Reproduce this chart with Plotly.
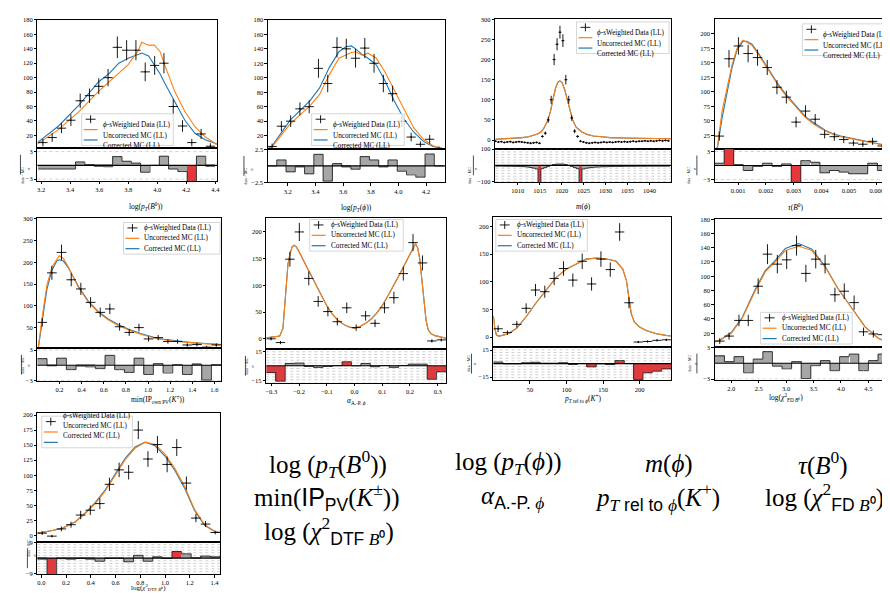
import plotly.graph_objects as go

W, H = 890, 593

LEGEND_LABELS = ["<i>ϕ</i>-sWeighted Data (LL)", "Uncorrected MC (LL)", "Corrected MC (LL)"]
FRAC_TOP, FRAC_BOT = "data − MC", "σ"

# ---------------- Panel 1: log(pT(B0)) ----------------
ptb_x = [3.212, 3.276, 3.340, 3.405, 3.469, 3.533, 3.597, 3.661, 3.725, 3.789, 3.853, 3.917, 3.982, 4.046, 4.110, 4.174, 4.238, 4.302, 4.366]
ptb_w = 0.064
ptb_data = [10, 17, 30, 41, 68, 75, 88, 100, 142, 138, 138, 108, 117, 120, 60, 33, 10, 22, 5]
ptb_err = [5, 6, 7, 8, 10, 10, 11, 12, 15, 14, 14, 13, 13, 14, 10, 8, 5, 7, 4]
ptb_mc_x = [3.174, 3.18, 3.32, 3.46, 3.595, 3.67, 3.735, 3.8, 3.87, 3.893, 3.94, 3.98, 4.02, 4.05, 4.12, 4.19, 4.26, 4.33, 4.412]
ptb_unc = [8, 9, 28, 53, 81, 95, 106, 118, 138, 149, 145, 145, 136, 118, 81, 53, 32, 18, 7]
ptb_cor = [10, 11, 33, 62, 94, 106, 120, 127, 132, 134, 130, 118, 105, 93, 68, 41, 23, 14, 8]
ptb_pull = [-0.8, -0.8, -0.8, -0.8, 0.75, 0.15, -0.2, -0.3, 1.9, 0.9, 0.5, -1.5, 0.0, 2.0, -0.8, -1.35, -3.6, 2.0, -0.2]

# ---------------- Panel 2: log(pT(phi)) ----------------
pphi_x = [3.087, 3.154, 3.221, 3.288, 3.355, 3.422, 3.489, 3.556, 3.623, 3.690, 3.757, 3.824, 3.891, 3.958, 4.025, 4.092, 4.159, 4.226, 4.293]
pphi_w = 0.067
pphi_data = [5, 33, 40, 57, 60, 113, 92, 142, 140, 127, 141, 120, 92, 78, 40, 18, 8, 15, 2]
pphi_err = [4, 7, 8, 9, 9, 13, 12, 14, 14, 13, 14, 13, 12, 11, 8, 6, 4, 6, 3]
pphi_mc_x = [3.056, 3.084, 3.216, 3.36, 3.43, 3.5, 3.57, 3.62, 3.66, 3.69, 3.74, 3.78, 3.84, 3.9, 3.97, 4.04, 4.11, 4.18, 4.25, 4.337]
pphi_unc = [2, 4, 36, 61, 77, 104, 127, 132, 135, 136, 131, 134, 127, 109, 83, 56, 31, 15, 6, 1.5]
pphi_cor = [2, 5, 41, 68, 86, 114, 136, 143, 144, 140, 132, 127, 118, 97, 68, 43, 25, 12, 5, 1.5]
pphi_pull = [0.0, 0.9, -0.9, -0.15, -1.2, 1.75, -2.3, 0.35, -0.15, -0.5, 1.4, 0.9, -0.15, 0.9, -0.8, -1.35, -1.7, 1.8, 0.0]

# ---------------- Panel 3: m(phi) ----------------
mphi_x = [1004.95, 1005.62, 1006.28, 1006.95, 1007.62, 1008.29, 1008.95, 1009.62, 1010.29, 1010.95,
          1011.62, 1012.29, 1012.95, 1013.62, 1014.29, 1014.95, 1015.62, 1016.29, 1016.96, 1017.62,
          1018.29, 1018.96, 1019.62, 1020.29, 1020.96, 1021.62, 1022.29, 1022.96, 1023.63, 1024.29,
          1024.96, 1025.63, 1026.29, 1026.96, 1027.63, 1028.30, 1028.96, 1029.63, 1030.30, 1030.96,
          1031.63, 1032.30, 1032.96, 1033.63, 1034.30, 1034.97, 1035.63, 1036.30, 1036.97, 1037.63,
          1038.30, 1038.97, 1039.63, 1040.30, 1040.97, 1041.63, 1042.30, 1042.97, 1043.63, 1044.30]
mphi_w = 0.667
mphi_data = [-3, -5, -4, -6, -5, -4, -6, -5, -4, -5, -6, -7, -8, -7, -6,
             -8, 9, 17, 50, 100, 200, 238, 268, 247, 150, 100, 55, 22, 9, -3,
             -5, -7, -8, -7, -6, -7, -6, -5, -6, -5, -6, -5, -4, -5, -4,
             -5, -4, -3, -4, -3, -3, -2, -3, -2, -3, -2, -1, -2, -1, -2]
mphi_err = [2.5, 2.5, 2.5, 2.5, 2.5, 2.5, 2.5, 2.5, 2.5, 2.5, 2.5, 2.5, 2.5, 2.5, 2.5,
            2.5, 3, 4, 7, 10, 14, 15, 16, 16, 12, 10, 7, 5, 3, 2.5,
            2.5, 2.5, 2.5, 2.5, 2.5, 2.5, 2.5, 2.5, 2.5, 2.5, 2.5, 2.5, 2.5, 2.5, 2.5,
            2.5, 2.5, 2.5, 2.5, 2.5, 2.5, 2.5, 2.5, 2.5, 2.5, 2.5, 2.5, 2.5, 2.5, 2.5]
mphi_mc_x = [1004.9, 1007, 1009, 1011, 1012.5, 1013.5, 1014.5, 1015.3, 1016, 1016.9, 1017.5, 1018, 1018.6, 1019.1,
             1019.6, 1020.1, 1020.7, 1021.3, 1022, 1022.5, 1023.3, 1024.6, 1025.8, 1027.2, 1029, 1031, 1034, 1037, 1040, 1044.9]
mphi_unc = [2, 3, 4, 6, 8, 11, 15, 20, 30, 50, 73, 100, 128, 143, 147, 143, 125, 100, 73, 50, 32, 20, 14, 10, 8, 6, 5, 4, 3, 3]
mphi_cor = [2, 3, 4, 6, 8, 11, 15, 20, 30, 50, 73, 100, 128, 143, 147, 143, 125, 100, 73, 50, 32, 20, 14, 10, 8, 6, 5, 4, 3, 3]
mphi_pull = [-3, -3, -3, -4, -4, -4, -5, -5, -6, -7, -8, -10, -13, -17, -22,
             -110, -20, -12, -6, 0, 5, 8, 9, 8, 5, 0, -6, -12, -20, -110,
             -22, -18, -15, -13, -11, -10, -9, -8, -8, -7, -7, -6, -6, -6, -5,
             -5, -5, -5, -4, -4, -4, -4, -3, -3, -3, -3, -3, -3, -3, -3]

# ---------------- Panel 4: tau(B0) ----------------
tau_x = [0.00032, 0.00067, 0.00101, 0.00136, 0.00170, 0.00205, 0.00240, 0.00274, 0.00309, 0.00343,
         0.00378, 0.00412, 0.00447, 0.00481, 0.00516, 0.00550, 0.00585, 0.00620, 0.00654]
tau_w = 0.000345
tau_data = [24, 157, 179, 166, 159, 142, 108, 91, 48, 67, 53, 27, 23, 18, 12, 10, 15, 7, 5]
tau_err = [8, 15, 15, 15, 14, 13, 12, 11, 9, 10, 9, 7, 7, 6, 5, 5, 6, 4, 4]
tau_mc_x = [0.00015, 0.00025, 0.00042, 0.0006, 0.00078, 0.00096, 0.00117, 0.0013, 0.0015, 0.00175, 0.002, 0.00222,
            0.00246, 0.0027, 0.00294, 0.00318, 0.00342, 0.00366, 0.0039, 0.00414, 0.00438, 0.0047, 0.0051, 0.0055,
            0.00582, 0.0062, 0.00666]
tau_unc = [1, 5, 67, 107, 147, 175, 189, 186, 180, 163, 145, 127, 110, 95, 82, 68, 56, 47, 39, 33, 28, 23, 19, 15, 12, 9, 5]
tau_cor = [1, 3, 55, 100, 142, 172, 187, 187, 182, 165, 147, 129, 112, 97, 84, 70, 58, 49, 41, 34, 29, 24, 20, 16, 12.5, 9.5, 5.5]
tau_pull = [0.5, 3.6, 0.2, -1.05, -0.15, 0.5, -0.15, 0.35, -3.6, 1.05, 0.7, -1.55, -1.05, -1.4, -1.75, -1.75, 0.5, -1.05, -2.0]

# ---------------- Panel 5: min(IP_ownPV(K)) ----------------
ip_x = [0.044, 0.131, 0.218, 0.306, 0.393, 0.481, 0.568, 0.655, 0.743, 0.830, 0.918, 1.005, 1.092, 1.180, 1.267, 1.355, 1.442, 1.529, 1.617]
ip_w = 0.0874
ip_data = [62, 176, 223, 160, 139, 108, 85, 93, 52, 39, 50, 24, 27, 18, 18, 10, 11, 5, 10]
ip_err = [10, 16, 18, 15, 14, 12, 11, 12, 9, 8, 9, 6, 6, 5, 5, 4, 4, 3, 4]
ip_mc_x = [0.0, 0.008, 0.041, 0.086, 0.131, 0.176, 0.197, 0.236, 0.281, 0.37, 0.46, 0.55, 0.64, 0.73, 0.82, 0.94, 1.09, 1.24, 1.39, 1.54, 1.66]
ip_unc = [0, 3, 71, 147, 189, 209, 215, 209, 189, 143, 109, 85, 68, 55, 45, 34, 24, 18.5, 15, 12.7, 11]
ip_cor = [0, 2, 60, 138, 182, 203, 206, 203, 187, 145, 111, 87, 70, 57, 47, 36, 25, 19.5, 15.5, 13, 11]
ip_pull = [1.3, -0.1, 1.4, -0.85, -0.15, -0.3, -0.65, 1.95, -0.85, -1.4, 1.4, -1.8, 0.3, -1.5, 0.1, -1.8, 0.2, -2.9, 0.1]

# ---------------- Panel 6: alpha A.-P. phi ----------------
ap_x = [-0.301, -0.267, -0.233, -0.199, -0.165, -0.131, -0.096, -0.062, -0.028, 0.006, 0.040, 0.074, 0.108, 0.142, 0.176, 0.211, 0.245, 0.279, 0.313]
ap_w = 0.0341
ap_data = [0, -7, 149, 200, 113, 70, 51, 32, 58, 21, 43, 29, 58, 77, 122, 180, 142, -4, -2]
ap_err = [3, 3, 14, 17, 13, 10, 9, 7, 10, 6, 9, 7, 10, 11, 13, 16, 14, 3, 3]
ap_mc_x = [-0.318, -0.29, -0.27, -0.258, -0.25, -0.245, -0.24, -0.232, -0.225, -0.218, -0.21, -0.2, -0.19, -0.18, -0.16,
           -0.14, -0.12, -0.1, -0.08, -0.06, -0.04, -0.02, 0.0, 0.02, 0.04, 0.06, 0.08, 0.1, 0.12, 0.14, 0.16, 0.18, 0.2,
           0.21, 0.22, 0.228, 0.235, 0.242, 0.25, 0.258, 0.265, 0.275, 0.29, 0.31, 0.33]
ap_unc = [2, 3, 5, 20, 70, 110, 140, 160, 172, 175, 172, 163, 152, 142, 122, 102, 82, 62, 46, 35, 27, 22, 20, 23, 29,
          37, 48, 62, 80, 98, 118, 138, 158, 168, 178, 170, 150, 115, 70, 35, 18, 10, 6, 3, 1]
ap_cor = [2, 3, 5, 20, 70, 110, 140, 160, 172, 175, 172, 163, 152, 142, 122, 102, 82, 62, 46, 35, 27, 22, 20, 23, 29,
          37, 48, 62, 80, 98, 118, 138, 158, 168, 178, 170, 150, 115, 70, 35, 18, 10, 6, 3, 1]
ap_pull = [-7, -16, 2.4, 2.8, -0.7, -1.7, -0.7, 0.2, 4.2, 0.0, 2.4, -1.0, 0.3, -1.7, 0.3, 1.7, 1.7, -14, -6.3]

# ---------------- Panel 7: pT rel to phi (K+) ----------------
prel_x = [6.4, 19.2, 32.0, 44.8, 57.6, 70.3, 83.1, 95.9, 108.7, 121.5, 134.3, 147.1, 159.9, 172.7, 185.5, 198.2, 211.0, 223.8, 236.6]
prel_w = 12.79
prel_data = [15, 8, 23, 52, 85, 82, 106, 124, 103, 137, 96, 141, 122, 190, 62, -9, -8, -6, -5]
prel_err = [6, 4, 6, 9, 11, 11, 12, 13, 12, 14, 12, 14, 13, 16, 10, 2, 2, 2, 2]
prel_mc_x = [0, 2, 4, 7, 12, 18, 25, 32, 40, 46, 59, 73, 86, 100, 114, 127, 141, 155, 168, 177, 182, 185.5, 188.6,
             193, 200, 209, 223, 236, 243]
prel_unc = [38, 15, 4, 1.8, 3, 5, 10, 16, 29, 39, 63, 87, 108, 123, 133, 141, 143, 141, 137, 123, 102, 69, 42, 27, 18, 12, 6, 3, 2]
prel_cor = [38, 15, 4, 1.8, 3, 5, 10, 16, 29, 39, 63, 87, 108, 123, 133, 141, 143, 141, 137, 123, 102, 69, 42, 27, 18, 12, 6, 3, 2]
prel_pull = [1.8, -0.2, -0.2, 0.8, 1.5, 0.5, 0.5, 0.8, -0.9, 0.1, -3.6, -0.2, -1.0, 3.5, 0.1, -17.6, -10.2, -8.4, -5.8]

# ---------------- Panel 8: log(chi2 FD B0) ----------------
fd_x = [1.79, 1.96, 2.14, 2.31, 2.49, 2.66, 2.84, 3.01, 3.19, 3.36, 3.54, 3.71, 3.89, 4.06, 4.24, 4.41, 4.59, 4.76, 4.94]
fd_w = 0.175
fd_data = [9, 16, 38, 38, 86, 131, 117, 123, 143, 104, 124, 117, 74, 79, 63, 22, 19, 18, 2]
fd_err = [4, 5, 8, 8, 11, 14, 13, 13, 14, 12, 13, 13, 10, 11, 10, 6, 5, 5, 2]
fd_mc_x = [1.7, 1.806, 2.0, 2.2, 2.44, 2.62, 2.8, 2.985, 3.23, 3.47, 3.71, 3.95, 4.2, 4.44, 4.68, 4.985]
fd_unc = [8, 10.7, 20, 41, 80, 106, 120, 136, 142, 136, 113, 82, 55, 29, 13, 3]
fd_cor = [8, 11, 21, 42, 82, 108, 122, 139, 146, 138, 114, 82, 55, 29, 13, 3]
fd_pull = [1.4, 0.3, 1.25, -1.8, 0.8, 2.2, -0.55, -1.05, 0.3, -2.9, -0.45, 0.5, -1.4, 1.25, 1.75, -1.4, 0.5, 1.75, -2.0]

# ---------------- Panel 9: log(chi2 DTF B0) ----------------
dtf_x = [0.007, 0.085, 0.162, 0.240, 0.318, 0.396, 0.473, 0.551, 0.629, 0.706, 0.784, 0.862, 0.939, 1.017, 1.095, 1.173, 1.250, 1.328, 1.406]
dtf_w = 0.0777
dtf_data = [4, -1, 11, 18, 34, 42, 53, 85, 109, 105, 175, 127, 151, 118, 146, 87, 29, 19, 5]
dtf_err = [3, 2, 4, 5, 7, 8, 9, 11, 12, 12, 15, 13, 14, 13, 14, 11, 7, 5, 3]
dtf_mc_x = [-0.032, 0.0, 0.08, 0.17, 0.276, 0.357, 0.437, 0.517, 0.6, 0.678, 0.758, 0.812, 0.84, 0.92, 1.0, 1.08, 1.16, 1.24, 1.32, 1.4, 1.445]
dtf_unc = [4, 5, 8, 12, 23, 37, 53, 74, 102, 126, 145, 152, 155, 151, 135, 111, 81, 43, 18, 7, 5]
dtf_cor = [4, 5, 8, 12, 23, 38, 55, 76, 104, 128, 147, 153, 155, 149, 132, 108, 78, 41, 17, 7, 5]
dtf_pull = [-0.6, -10, -0.3, -0.6, -0.2, -0.6, -1.8, -0.2, -0.2, -2.1, 1.6, -1.8, 0.6, -0.2, 3.8, 2.5, 0.1, 1.2, 0.6]

# axis titles and big labels
X_TITLES = [
    "log(<i>p<sub>T</sub></i>(<i>B</i><sup>0</sup>))",
    "log(<i>p<sub>T</sub></i>(<i>ϕ</i>))",
    "<i>m</i>(<i>ϕ</i>)",
    "<i>τ</i>(<i>B</i><sup>0</sup>)",
    "min(IP<sub>own PV</sub>(<i>K</i><sup>±</sup>))",
    "<i>α</i><sub>A.-P. <i>ϕ</i></sub>",
    "<i>p</i><sub><i>T</i> rel to <i>ϕ</i></sub>(<i>K</i><sup>+</sup>)",
    "log(<i>χ</i><sup>2</sup><sub>FD <i>B</i>⁰</sub>)",
    "log(<i>χ</i><sup>2</sup><sub>DTF <i>B</i>⁰</sub>)",
]
SANS_SPAN = "<span style='font-family:Liberation Sans'>"
BIG_LABELS = [
    "log (<i>p<sub>T</sub></i>(<i>B</i><sup>0</sup>))",
    "log (<i>p<sub>T</sub></i>(<i>ϕ</i>))",
    "<i>m</i>(<i>ϕ</i>)",
    "<i>τ</i>(<i>B</i><sup>0</sup>)",
    "min(" + SANS_SPAN + "IP<sub>PV</sub></span>(<i>K</i><sup>±</sup>))",
    "<i>α</i><sub>" + SANS_SPAN + "A.-P.</span> <i>ϕ</i></sub>",
    "<i>p<sub>T</sub></i><sub>" + SANS_SPAN + " rel to </span><i>ϕ</i></sub>(<i>K</i><sup>+</sup>)",
    "log (<i>χ</i><sup>2</sup><sub>" + SANS_SPAN + "FD</span> <i>B</i>⁰</sub>)",
    "log (<i>χ</i><sup>2</sup><sub>" + SANS_SPAN + "DTF</span> <i>B</i>⁰</sub>)",
]

DATASETS = [
    dict(x=ptb_x, w=ptb_w, data=ptb_data, err=ptb_err, mcx=ptb_mc_x, unc=ptb_unc, cor=ptb_cor, pull=ptb_pull),
    dict(x=pphi_x, w=pphi_w, data=pphi_data, err=pphi_err, mcx=pphi_mc_x, unc=pphi_unc, cor=pphi_cor, pull=pphi_pull),
    dict(x=mphi_x, w=mphi_w, data=mphi_data, err=mphi_err, mcx=mphi_mc_x, unc=mphi_unc, cor=mphi_cor, pull=mphi_pull),
    dict(x=tau_x, w=tau_w, data=tau_data, err=tau_err, mcx=tau_mc_x, unc=tau_unc, cor=tau_cor, pull=tau_pull),
    dict(x=ip_x, w=ip_w, data=ip_data, err=ip_err, mcx=ip_mc_x, unc=ip_unc, cor=ip_cor, pull=ip_pull),
    dict(x=ap_x, w=ap_w, data=ap_data, err=ap_err, mcx=ap_mc_x, unc=ap_unc, cor=ap_cor, pull=ap_pull),
    dict(x=prel_x, w=prel_w, data=prel_data, err=prel_err, mcx=prel_mc_x, unc=prel_unc, cor=prel_cor, pull=prel_pull),
    dict(x=fd_x, w=fd_w, data=fd_data, err=fd_err, mcx=fd_mc_x, unc=fd_unc, cor=fd_cor, pull=fd_pull),
    dict(x=dtf_x, w=dtf_w, data=dtf_data, err=dtf_err, mcx=dtf_mc_x, unc=dtf_unc, cor=dtf_cor, pull=dtf_pull),
]

# ---------------- layout specs (pixel geometry & ticks) ----------------
def steps(lo, hi, n):
    return [lo + (hi - lo) * i / n for i in range(n + 1)]

SPECS = [
    dict(l=28.5, r=209, t=8, m=138, b=171, xr=[3.174, 4.412], yr=[2, 180], rr=[-3.4, 3.7],
         xt=[3.2, 3.4, 3.6, 3.8, 4.0, 4.2, 4.4], xtt=["3.2", "3.4", "3.6", "3.8", "4.0", "4.2", "4.4"],
         yt=[20, 40, 60, 80, 100, 120, 140, 160, 180], rt=[-3, 3], rtt=["−3", "3"], grid=[-3, 3],
         leg=(73, 103, 92), frac=-17, thr=3, td=18.5, tf=7.5),
    dict(l=260, r=438, t=8, m=139, b=172.5, xr=[3.056, 4.337], yr=[1, 180], rr=[-2.5, 2.5],
         xt=[3.2, 3.4, 3.6, 3.8, 4.0, 4.2], xtt=["3.2", "3.4", "3.6", "3.8", "4.0", "4.2"],
         yt=[20, 40, 60, 80, 100, 120, 140, 160, 180], rt=[-2.5, 2.5], rtt=["−2.5", "2.5"], grid=[],
         leg=(304, 103, 93), frac=-24, thr=3, td=18.5, tf=7.5),
    dict(l=488.5, r=665, t=7, m=138.5, b=172, xr=[1004.9, 1044.9], yr=[-22, 301], rr=[-102, 102],
         xt=[1010, 1015, 1020, 1025, 1030, 1035, 1040], xtt=["1010", "1015", "1020", "1025", "1030", "1035", "1040"],
         yt=[0, 50, 100, 150, 200, 250, 300], rt=[-100, 100], rtt=["−100", "100"], grid=steps(-100, 100, 12),
         leg=(570, 10, 93), frac=-22, thr=50, td=18.5, tf=7.5),
    dict(l=709, r=890, t=7.5, m=138.5, b=172, xr=[0.000158, 0.00666], yr=[2, 224.7], rr=[-3.5, 3.56],
         xt=[0.001, 0.002, 0.003, 0.004, 0.005, 0.006], xtt=["0.001", "0.002", "0.003", "0.004", "0.005", "0.006"],
         yt=[25, 50, 75, 100, 125, 150, 175, 200, 225], rt=[-3, 3], rtt=["−3", "3"], grid=[-3, 3],
         leg=(797, 12, 93), frac=-18, thr=3, td=18.5, tf=7.5),
    dict(l=28.5, r=213, t=208.5, m=340.5, b=373.5, xr=[0.0, 1.66], yr=[2, 302], rr=[-3.1, 3.3],
         xt=[0.2, 0.4, 0.6, 0.8, 1.0, 1.2, 1.4, 1.6], xtt=["0.2", "0.4", "0.6", "0.8", "1.0", "1.2", "1.4", "1.6"],
         yt=[50, 100, 150, 200, 250, 300], rt=[-3, 3], rtt=["−3", "3"], grid=[-3, 3],
         leg=(115, 213, 97), frac=-16, thr=3, td=18.5, tf=7.5),
    dict(l=258.5, r=439, t=208.5, m=341, b=375, xr=[-0.318, 0.33], yr=[-19, 226], rr=[-17.4, 17.4],
         xt=[-0.3, -0.2, -0.1, 0.0, 0.1, 0.2, 0.3], xtt=["−0.3", "−0.2", "−0.1", "0.0", "0.1", "0.2", "0.3"],
         yt=[0, 50, 100, 150, 200], rt=[-15, 15], rtt=["−15", "15"], grid=steps(-17.4, 17.4, 12),
         leg=(302, 210, 94), frac=-21, thr=3, td=18.5, tf=7.5),
    dict(l=486.6, r=665, t=207.5, m=339, b=372.7, xr=[0, 243], yr=[-18, 217], rr=[-18.5, 18.5],
         xt=[50, 100, 150, 200], xtt=["50", "100", "150", "200"],
         yt=[0, 50, 100, 150, 200], rt=[-15, 15], rtt=["−15", "15"], grid=steps(-18.5, 18.5, 12),
         leg=(489, 210, 92), frac=-22, thr=3, td=18.5, tf=7.5),
    dict(l=709, r=890, t=209, m=339.5, b=372, xr=[1.70, 4.985], yr=[0, 181], rr=[-3.1, 3.0],
         xt=[2.0, 2.5, 3.0, 3.5, 4.0, 4.5], xtt=["2.0", "2.5", "3.0", "3.5", "4.0", "4.5"],
         yt=[20, 40, 60, 80, 100, 120, 140, 160, 180], rt=[-3, 3], rtt=["−3", "3"], grid=[-3, 3],
         leg=(755, 304, 92), frac=-18, thr=3, td=18.5, tf=7.5),
    dict(l=28.5, r=212, t=406, m=536.5, b=569, xr=[-0.032, 1.445], yr=[-11, 203], rr=[-9.3, 9.2],
         xt=[0.0, 0.2, 0.4, 0.6, 0.8, 1.0, 1.2, 1.4], xtt=["0.0", "0.2", "0.4", "0.6", "0.8", "1.0", "1.2", "1.4"],
         yt=[0, 25, 50, 75, 100, 125, 150, 175, 200], rt=[-9, 9], rtt=["−9", "9"], grid=steps(-9.3, 9.3, 12),
         leg=(33, 409, 91), frac=-10, thr=3, td=19.5, tf=7),
]

BIG_POS = [(320, 457), (502, 457), (663, 457), (818, 457),
           (319, 491), (506, 491), (651, 491), (819, 491),
           (321, 525)]

SERIF = "Liberation Serif"
ORANGE, BLUE = "#ff7f0e", "#1f77b4"
GRAY, RED = "#a6a6a6", "#e5383b"


def PX(x):
    return x / W


def PY(y):
    return 1 - y / H


fig = go.Figure()
shapes, annotations, lay = [], [], {}

tickfont = dict(family=SERIF, size=6.5, color="black")
axbase = dict(showline=True, linecolor="black", linewidth=0.8, mirror=True, showgrid=False,
              zeroline=False, ticks="outside", ticklen=2.5, tickwidth=0.6, tickcolor="black",
              tickfont=tickfont)

for k, (S, D) in enumerate(zip(SPECS, DATASETS), start=1):
    im, ir = 2 * k - 1, 2 * k
    xm = "x" if im == 1 else f"x{im}"
    ym = "y" if im == 1 else f"y{im}"
    xr_, yr_ = f"x{ir}", f"y{ir}"
    kxm = "xaxis" if im == 1 else f"xaxis{im}"
    kym = "yaxis" if im == 1 else f"yaxis{im}"
    dom_x = [PX(S["l"]), min(1.0, PX(S["r"]))]

    lay[kxm] = dict(axbase, domain=dom_x, range=S["xr"], anchor=ym, showticklabels=False, ticks="")
    lay[kym] = dict(axbase, domain=[PY(S["m"]), PY(S["t"])], range=S["yr"], anchor=xm,
                    tickvals=S["yt"], ticktext=[str(v) for v in S["yt"]])
    lay[f"xaxis{ir}"] = dict(axbase, domain=dom_x, range=S["xr"], anchor=yr_,
                             tickvals=S["xt"], ticktext=S["xtt"])
    lay[f"yaxis{ir}"] = dict(axbase, domain=[PY(S["b"]), PY(S["m"])], range=S["rr"], anchor=xr_,
                             tickvals=S["rt"], ticktext=S["rtt"])

    # MC curves and data
    fig.add_trace(go.Scatter(x=D["mcx"], y=D["cor"], mode="lines", line=dict(color=BLUE, width=1.1),
                             xaxis=xm, yaxis=ym, showlegend=False, hoverinfo="skip"))
    fig.add_trace(go.Scatter(x=D["mcx"], y=D["unc"], mode="lines", line=dict(color=ORANGE, width=1.1),
                             xaxis=xm, yaxis=ym, showlegend=False, hoverinfo="skip"))
    fig.add_trace(go.Scatter(x=D["x"], y=D["data"], mode="markers", marker=dict(size=1.5, color="black"),
                             error_x=dict(type="constant", value=D["w"] / 2, width=0, thickness=0.9, color="black"),
                             error_y=dict(type="data", array=D["err"], width=0, thickness=0.9, color="black"),
                             xaxis=xm, yaxis=ym, showlegend=False))

    # residuals
    cols = [RED if abs(v) > S["thr"] else GRAY for v in D["pull"]]
    fig.add_trace(go.Bar(x=D["x"], y=D["pull"], width=D["w"], marker=dict(color=cols, line=dict(width=0)),
                         xaxis=xr_, yaxis=yr_, showlegend=False, hoverinfo="skip"))
    ox = [D["x"][0] - D["w"] / 2] + list(D["x"]) + [D["x"][-1] + D["w"] / 2]
    oy = [D["pull"][0]] + list(D["pull"]) + [D["pull"][-1]]
    fig.add_trace(go.Scatter(x=ox, y=oy, mode="lines", line=dict(color="#222222", width=0.9, shape="hvh"),
                             xaxis=xr_, yaxis=yr_, showlegend=False, hoverinfo="skip"))
    for g in S["grid"]:
        shapes.append(dict(type="line", xref=f"{xr_} domain", yref=yr_, x0=0, x1=1, y0=g, y1=g,
                           line=dict(color="rgba(110,110,110,0.55)", width=0.6, dash="dot"), layer="above"))
    shapes.append(dict(type="line", xref=f"{xr_} domain", yref=yr_, x0=0, x1=1, y0=0, y1=0,
                       line=dict(color="black", width=1.1), layer="above"))

    # residual y label (fraction)
    lx = S["l"] + S["frac"]
    cy = (S["m"] + S["b"]) / 2
    shapes.append(dict(type="line", xref="paper", yref="paper", x0=PX(lx), x1=PX(lx),
                       y0=PY(cy - 10), y1=PY(cy + 10), line=dict(color="black", width=0.7)))
    annotations.append(dict(x=PX(lx - 3), y=PY(cy), xref="paper", yref="paper", text=FRAC_TOP,
                            showarrow=False, textangle=-90, font=dict(family=SERIF, size=4, color="black")))
    annotations.append(dict(x=PX(lx + 3), y=PY(cy), xref="paper", yref="paper", text=FRAC_BOT,
                            showarrow=False, textangle=-90, font=dict(family=SERIF, size=4.5, color="black")))

    # x title
    annotations.append(dict(x=PX((S["l"] + S["r"]) / 2), y=PY(S["b"] + S["td"]), xref="paper", yref="paper",
                            text=X_TITLES[k - 1], showarrow=False,
                            font=dict(family=SERIF, size=S["tf"], color="black")))

    # legend (drawn)
    gx, gy, gw = S["leg"]
    gh = 32
    shapes.append(dict(type="rect", xref="paper", yref="paper", x0=PX(gx), x1=PX(gx + gw),
                       y0=PY(gy + gh), y1=PY(gy), fillcolor="rgba(255,255,255,0.8)",
                       line=dict(color="#cccccc", width=0.8), layer="above"))
    rows = [gy + 5.5, gy + 16, gy + 26.5]
    shapes.append(dict(type="line", xref="paper", yref="paper", x0=PX(gx + 4), x1=PX(gx + 14),
                       y0=PY(rows[0]), y1=PY(rows[0]), line=dict(color="black", width=0.9), layer="above"))
    shapes.append(dict(type="line", xref="paper", yref="paper", x0=PX(gx + 9), x1=PX(gx + 9),
                       y0=PY(rows[0] - 4), y1=PY(rows[0] + 4), line=dict(color="black", width=0.9), layer="above"))
    for yy, c in ((rows[1], ORANGE), (rows[2], BLUE)):
        shapes.append(dict(type="line", xref="paper", yref="paper", x0=PX(gx + 2), x1=PX(gx + 16),
                           y0=PY(yy), y1=PY(yy), line=dict(color=c, width=1.2), layer="above"))
    for yy, txt in zip(rows, LEGEND_LABELS):
        annotations.append(dict(x=PX(gx + 19), y=PY(yy), xref="paper", yref="paper", text=txt,
                                xanchor="left", showarrow=False, font=dict(family=SERIF, size=7.2, color="black")))

for (bx, by), txt in zip(BIG_POS, BIG_LABELS):
    annotations.append(dict(x=PX(bx), y=PY(by), xref="paper", yref="paper", text=txt, showarrow=False,
                            xanchor="center", yanchor="middle", font=dict(family=SERIF, size=25, color="black")))

fig.update_layout(width=W, height=H, margin=dict(l=0, r=0, t=0, b=0), paper_bgcolor="white",
                  plot_bgcolor="white", showlegend=False, shapes=shapes, annotations=annotations,
                  bargap=0, **lay)

fig.write_html("out.html")
